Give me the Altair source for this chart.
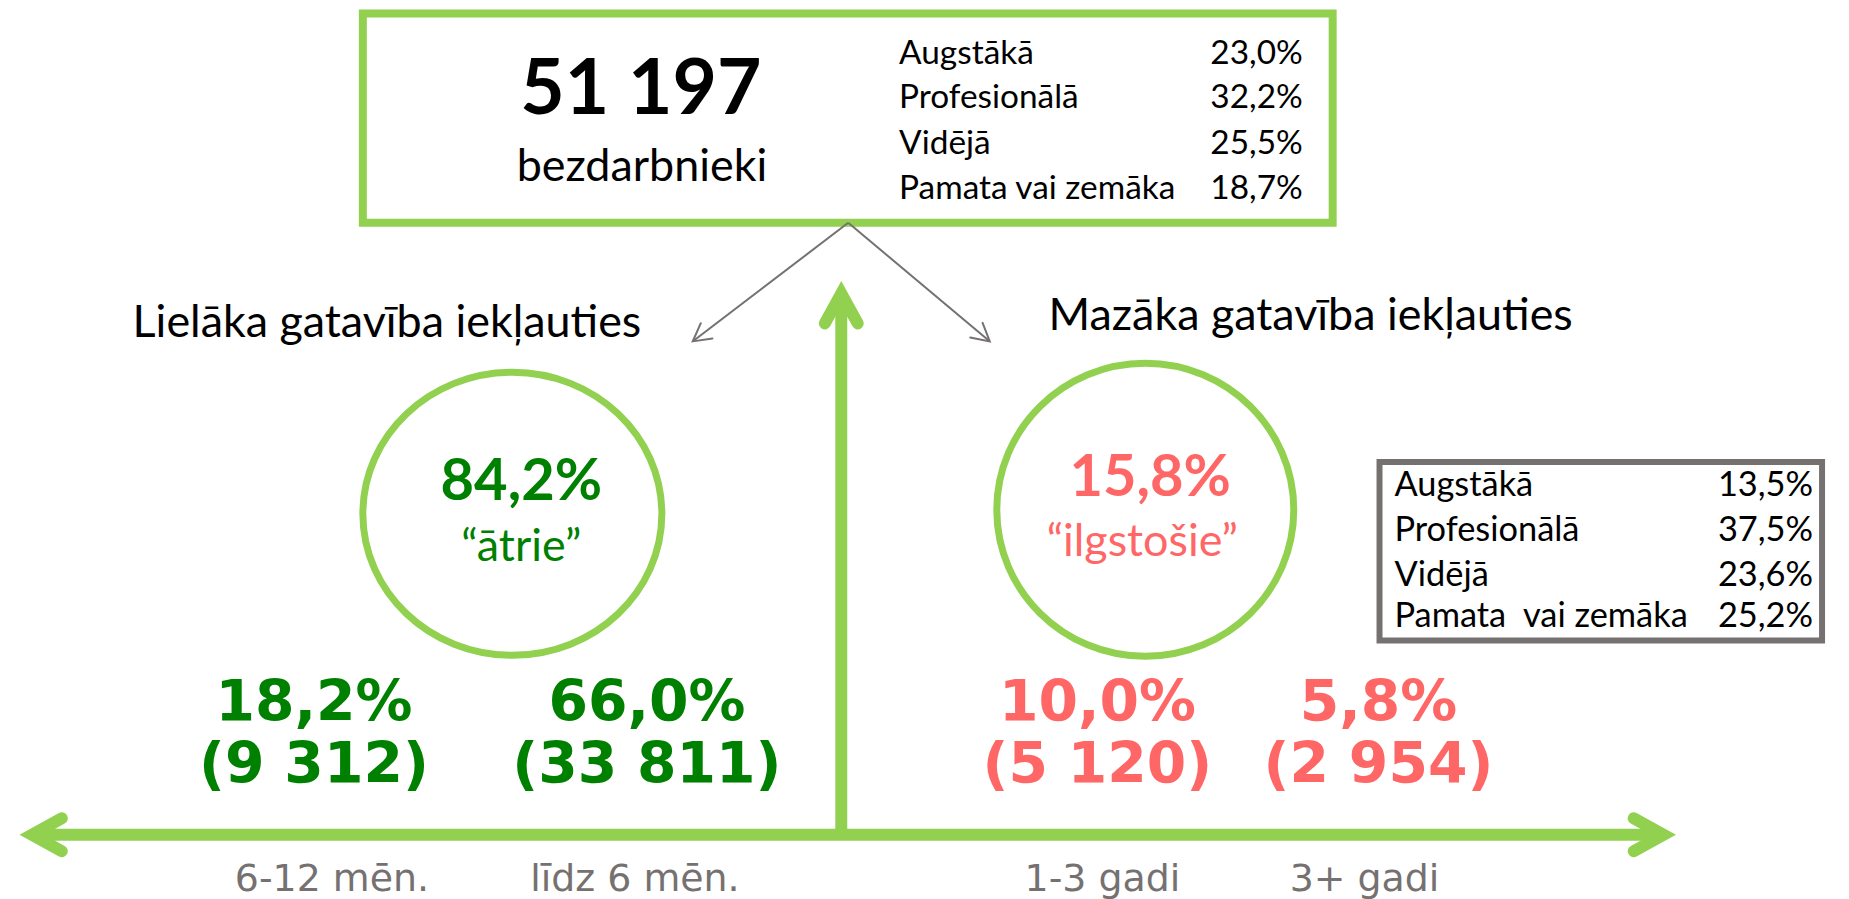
import math
import altair as alt
import pandas as pd

# ---------------- data ----------------
total_unemployed = 51197
total_label = "bezdarbnieki"
edu_labels = ["Augstākā", "Profesionālā", "Vidējā", "Pamata vai zemāka"]
edu_labels_long = ["Augstākā", "Profesionālā", "Vidējā", "Pamata\u00a0 vai zemāka"]
edu_all_pct = [23.0, 32.2, 25.5, 18.7]
edu_long_pct = [13.5, 37.5, 23.6, 25.2]
heading_fast = "Lielāka gatavība iekļauties"
heading_slow = "Mazāka gatavība iekļauties"
fast_pct = 84.2
slow_pct = 15.8
fast_label = "\u201cātrie\u201d"
slow_label = "\u201cilgstošie\u201d"
groups = ["6-12 mēn.", "līdz 6 mēn.", "1-3 gadi", "3+ gadi"]
group_pct = [18.2, 66.0, 10.0, 5.8]
group_n = [9312, 33811, 5120, 2954]


def pct(v):
    return f"{v:.1f}".replace(".", ",") + "%"


def num(v):
    return f"{v:,}".replace(",", " ")


# ---------------- styles / layout ----------------
W, H = 1833, 883
GREEN = "#92D050"
DKGREEN = "#008000"
SALMON = "#FF6666"
GRAY = "#767171"
CAL = "Lato"
VER = "DejaVu Sans"

xs = alt.Scale(domain=[8, 8 + W], nice=False, zero=False)
ys = alt.Scale(domain=[8, 8 + H], nice=False, zero=False, reverse=True)
X = alt.X("x:Q", scale=xs, axis=None)
Y = alt.Y("y:Q", scale=ys, axis=None)
X2 = alt.X2("x2:Q")
Y2 = alt.Y2("y2:Q")


def texts(rows, size, weight="normal", align="center", font=CAL):
    df = pd.DataFrame(rows, columns=["x", "y", "t", "c"])
    return alt.Chart(df).mark_text(
        font=font, fontSize=size, fontWeight=weight, align=align, baseline="alphabetic"
    ).encode(x=X, y=Y, text="t:N", color=alt.Color("c:N", scale=None))


layers = []

# boxes
boxes = pd.DataFrame([[358, 9, 1331, 219]], columns=["x", "y", "x2", "y2"])
layers.append(alt.Chart(boxes).mark_rect(fillOpacity=0, stroke=GREEN, strokeWidth=8)
              .encode(x=X, y=Y, x2=X2, y2=Y2))
gbox = pd.DataFrame([[1378, 459, 1822, 638]], columns=["x", "y", "x2", "y2"])
layers.append(alt.Chart(gbox).mark_rect(fillOpacity=0, stroke=GRAY, strokeWidth=6)
              .encode(x=X, y=Y, x2=X2, y2=Y2))

# gray thin arrows
apex = (845, 219)
gray_ends = [(689, 338), (987, 338)]
chev = "M -1.1 1 L 0 -1 L 1.1 1"
grule, ghead = [], []
g_s = 8.75
for ex, ey in gray_ends:
    dx, dy = ex - apex[0], ey - apex[1]
    ln = math.hypot(dx, dy)
    ux, uy = dx / ln, dy / ln
    grule.append([apex[0], apex[1], ex - ux, ey - uy])
    ang = math.degrees(math.atan2(ux, -uy)) % 360
    ghead.append([ex - ux * g_s, ey - uy * g_s, ang])
layers.append(alt.Chart(pd.DataFrame(grule, columns=["x", "y", "x2", "y2"]))
              .mark_rule(color=GRAY, strokeWidth=2).encode(x=X, y=Y, x2=X2, y2=Y2))
layers.append(alt.Chart(pd.DataFrame(ghead, columns=["x", "y", "a"]))
              .mark_point(shape=chev, filled=False, size=(2 * g_s) ** 2, strokeWidth=2,
                          opacity=1, color=GRAY, strokeJoin="miter", strokeCap="round")
              .encode(x=X, y=Y, angle=alt.Angle("a:Q", scale=None)))

# green axis arrows
axis_y = 833
v_x = 838
tips = [(26, axis_y, -1, 0), (1663, axis_y, 1, 0), (v_x, 290, 0, -1)]
g_len = 15
shafts = pd.DataFrame([
    [32, axis_y, 1657, axis_y],
    [v_x, axis_y + 5, v_x, 296],
], columns=["x", "y", "x2", "y2"])
layers.append(alt.Chart(shafts).mark_rule(color=GREEN, strokeWidth=12)
              .encode(x=X, y=Y, x2=X2, y2=Y2))
heads = []
for tx, ty, ux, uy in tips:
    ang = math.degrees(math.atan2(ux, -uy)) % 360
    heads.append([tx - ux * g_len, ty - uy * g_len, ang])
layers.append(alt.Chart(pd.DataFrame(heads, columns=["x", "y", "a"]))
              .mark_point(shape=chev, filled=False, size=(2 * g_len) ** 2, strokeWidth=12,
                          opacity=1, color=GREEN, strokeJoin="miter", strokeCap="round")
              .encode(x=X, y=Y, angle=alt.Angle("a:Q", scale=None)))

# ellipses
for cx, cy, rx, ry in [(508, 511, 150, 142), (1143, 507, 149, 147)]:
    k = ry / rx
    path = f"M -1 0 A 1 {k:.4f} 0 1 1 1 0 A 1 {k:.4f} 0 1 1 -1 0 Z"
    layers.append(alt.Chart(pd.DataFrame([[cx, cy]], columns=["x", "y"]))
                  .mark_point(shape=path, filled=False, size=(2 * rx) ** 2, strokeWidth=7,
                              opacity=1, color=GREEN)
                  .encode(x=X, y=Y))

# top box texts
layers.append(texts([[637, 110, num(total_unemployed), "#000000"]], 77, "bold"))
layers.append(texts([[638, 177, total_label, "#000000"]], 45))
top_rows = [60, 104, 150, 195]
layers.append(texts([[896, y, l, "#000000"] for y, l in zip(top_rows, edu_labels)], 33.5, align="left"))
layers.append(texts([[1301, y, pct(v), "#000000"] for y, v in zip(top_rows, edu_all_pct)], 33.5, align="right"))

# headings
layers.append(texts([[127, 334, heading_fast, "#000000"]], 45, align="left"))
layers.append(texts([[1046, 327, heading_slow, "#000000"]], 45, align="left"))

# circle texts
layers.append(texts([[517, 497, pct(fast_pct), DKGREEN], [1148, 493, pct(slow_pct), SALMON]], 58, "bold"))
layers.append(texts([[517, 558, fast_label, DKGREEN], [1140, 553, slow_label, SALMON]], 45))

# gray box table
g_rows = [493, 538, 583, 625]
layers.append(texts([[1393, y, l, "#000000"] for y, l in zip(g_rows, edu_labels_long)], 34.5, align="left"))
layers.append(texts([[1813, y, pct(v), "#000000"] for y, v in zip(g_rows, edu_long_pct)], 34.5, align="right"))

# bottom group numbers
gx = [309, 643, 1095, 1377]
gcol = [DKGREEN, DKGREEN, SALMON, SALMON]
layers.append(texts([[x, 719, pct(p), c] for x, p, c in zip(gx, group_pct, gcol)], 57, "bold", font=VER))
layers.append(texts([[x, 781, f"({num(n)})", c] for x, n, c in zip(gx, group_n, gcol)], 57, "bold", font=VER))
lx = [327, 631, 1100, 1363]
layers.append(texts([[x, 889, g, GRAY] for x, g in zip(lx, groups)], 38, font=VER))

chart = alt.layer(*layers).properties(width=W, height=H, padding=0).configure_view(strokeWidth=0)
chart.save("out.html", embed_options={"renderer": "svg", "actions": False})
